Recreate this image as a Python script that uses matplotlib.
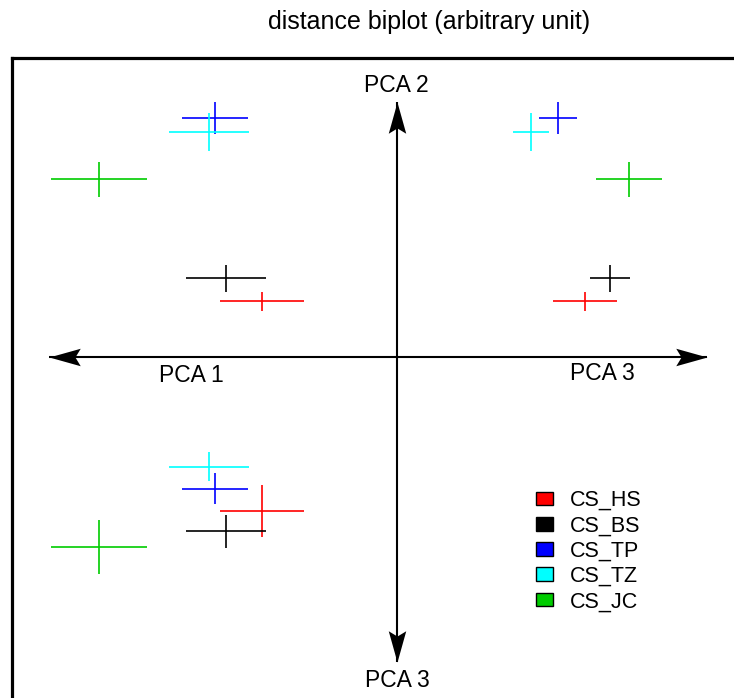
import matplotlib.pyplot as plt
from matplotlib.path import Path
from matplotlib.patches import Patch
from matplotlib.transforms import Affine2D

plt.rcParams['font.family'] = ['Liberation Sans', 'DejaVu Sans']

# groups and colours
groups = ['CS_HS', 'CS_BS', 'CS_TP', 'CS_TZ', 'CS_JC']
colors = ['#ff0000', '#000000', '#0000ff', '#00ffff', '#00cc00']

# distances from origin (arbitrary unit) and their spreads
pca1 = [1.35, 1.71, 1.82, 1.88, 2.98]
pca1_sd = [0.42, 0.40, 0.33, 0.40, 0.48]
pca2 = [0.68, 0.96, 2.92, 2.75, 2.17]
pca2_sd = [0.12, 0.17, 0.20, 0.23, 0.21]
pca3 = [1.88, 2.13, 1.61, 1.34, 2.32]
pca3_sd = [0.32, 0.20, 0.19, 0.18, 0.33]

fig = plt.figure(figsize=(7.34, 6.98), dpi=100)
fig.text(429 / 734, 1 - 28.5 / 698, 'distance biplot (arbitrary unit)',
         ha='center', va='baseline', fontsize=18)

# frame runs past the right and bottom edge like in the original
ax = fig.add_axes([11.7 / 734, 1 - 709 / 698, 770 / 734, (709 - 58.3) / 698])
ax.set_xlim(-3.85, 3.85)
ax.set_ylim(-4.3, 3.65)
ax.set_xticks([])
ax.set_yticks([])
for sp in ax.spines.values():
    sp.set_linewidth(2.3)

# axis arrows
head = Path([(0, 0), (-1, 0.28), (-0.83, 0), (-1, -0.28), (0, 0)],
            [Path.MOVETO, Path.LINETO, Path.LINETO, Path.LINETO, Path.CLOSEPOLY])
ends = [(-3.48, 0, 180), (3.10, 0, 0), (0, 3.11, 90), (0, -3.72, 270)]
for x, y, ang in ends:
    ax.plot([0, x], [0, y], color='black', lw=1.5, solid_capstyle='butt')
    mk = Affine2D().rotate_deg(ang).transform_path(head)
    ax.plot(x, y, marker=mk, markersize=45, color='black', markeredgewidth=0)

lab = 16.5
ax.text(0, 3.236, 'PCA 2', ha='center', va='baseline', fontsize=lab)
ax.text(0.01, -4.03, 'PCA 3', ha='center', va='baseline', fontsize=lab)
ax.text(-2.05, -0.31, 'PCA 1', ha='center', va='baseline', fontsize=lab)
ax.text(2.06, -0.28, 'PCA 3', ha='center', va='baseline', fontsize=lab)

# crosses: PCA1 vs PCA2 (upper left), PCA3 vs PCA2 (upper right), PCA1 vs PCA3 (lower left)
for i in range(len(groups)):
    c = colors[i]
    ax.errorbar(-pca1[i], pca2[i], xerr=pca1_sd[i], yerr=pca2_sd[i],
                fmt='none', ecolor=c, elinewidth=1.2)
    ax.errorbar(pca3[i], pca2[i], xerr=pca3_sd[i], yerr=pca2_sd[i],
                fmt='none', ecolor=c, elinewidth=1.2)
    ax.errorbar(-pca1[i], -pca3[i], xerr=pca1_sd[i], yerr=pca3_sd[i],
                fmt='none', ecolor=c, elinewidth=1.2)

handles = [Patch(facecolor=c, edgecolor='black', lw=1.0) for c in colors]
fig.legend(handles, groups, loc='upper left', bbox_to_anchor=(536 / 734, 1 - 490 / 698),
           frameon=False, fontsize=15.5, handlelength=0.78, handleheight=0.6,
           handletextpad=0.8, labelspacing=0.2, borderpad=0, borderaxespad=0)

fig.savefig('out.png', dpi=100)
